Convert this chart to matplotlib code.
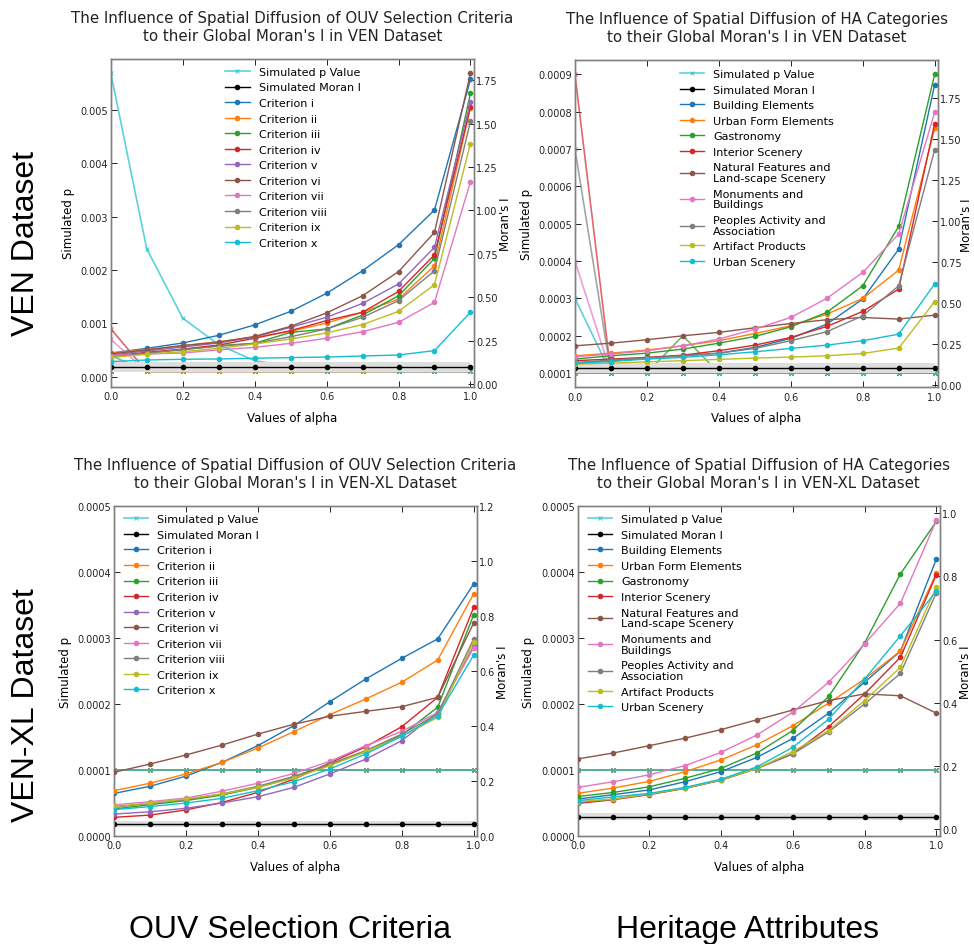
import matplotlib
matplotlib.use("Agg")
import matplotlib.pyplot as plt
from matplotlib.ticker import FormatStrFormatter, MultipleLocator

# alpha values shared by all four panels
alpha = [0.0, 0.1, 0.2, 0.3, 0.4, 0.5, 0.6, 0.7, 0.8, 0.9, 1.0]

criteria = ["Criterion i", "Criterion ii", "Criterion iii", "Criterion iv", "Criterion v",
            "Criterion vi", "Criterion vii", "Criterion viii", "Criterion ix", "Criterion x"]
criteria_colors = ["#1f77b4", "#ff7f0e", "#2ca02c", "#d62728", "#9467bd",
                   "#8c564b", "#e377c2", "#7f7f7f", "#bcbd22", "#17becf"]

ha_names = ["Building Elements", "Urban Form Elements", "Gastronomy", "Interior Scenery",
            "Natural Features and\nLand-scape Scenery", "Monuments and\nBuildings",
            "Peoples Activity and\nAssociation", "Artifact Products", "Urban Scenery"]
ha_colors = ["#1f77b4", "#ff7f0e", "#2ca02c", "#d62728", "#8c564b",
             "#e377c2", "#7f7f7f", "#bcbd22", "#17becf"]

# VEN dataset, OUV criteria: Moran's I per alpha
ven_ouv_moran = [
    [0.178, 0.205, 0.236, 0.280, 0.340, 0.418, 0.522, 0.652, 0.802, 1.002, 1.754],
    [0.178, 0.198, 0.221, 0.244, 0.269, 0.303, 0.351, 0.413, 0.489, 0.681, 1.590],
    [0.159, 0.178, 0.198, 0.221, 0.234, 0.297, 0.317, 0.397, 0.508, 0.723, 1.675],
    [0.159, 0.182, 0.201, 0.224, 0.263, 0.307, 0.365, 0.413, 0.533, 0.744, 1.596],
    [0.167, 0.190, 0.213, 0.236, 0.271, 0.326, 0.384, 0.464, 0.576, 0.787, 1.625],
    [0.173, 0.196, 0.221, 0.240, 0.274, 0.332, 0.409, 0.508, 0.647, 0.873, 1.790],
    [0.163, 0.173, 0.178, 0.196, 0.211, 0.234, 0.263, 0.301, 0.355, 0.470, 1.165],
    [0.153, 0.177, 0.198, 0.217, 0.234, 0.272, 0.317, 0.384, 0.480, 0.652, 1.512],
    [0.153, 0.171, 0.186, 0.205, 0.230, 0.259, 0.294, 0.342, 0.418, 0.572, 1.385],
    [0.129, 0.138, 0.142, 0.144, 0.148, 0.152, 0.155, 0.161, 0.167, 0.192, 0.413],
]
# VEN dataset, OUV criteria: simulated p per alpha
ven_ouv_p = [
    [0.0001, 0.0001, 0.0001, 0.0001, 0.0001, 0.0001, 0.0001, 0.0001, 0.0001, 0.0001, 0.0001],
    [0.0001, 0.0001, 0.0001, 0.0001, 0.0001, 0.0001, 0.0001, 0.0001, 0.0001, 0.0001, 0.0001],
    [0.0003, 0.0001, 0.0001, 0.0002, 0.0001, 0.0001, 0.0001, 0.0001, 0.0001, 0.0001, 0.0001],
    [0.0009, 0.0001, 0.0001, 0.0001, 0.0001, 0.0001, 0.0001, 0.0001, 0.0001, 0.0001, 0.0001],
    [0.0001, 0.0001, 0.0001, 0.0001, 0.0001, 0.0001, 0.0001, 0.0001, 0.0001, 0.0001, 0.0001],
    [0.0001, 0.0001, 0.0001, 0.0001, 0.0001, 0.0001, 0.0001, 0.0001, 0.0001, 0.0001, 0.0001],
    [0.0007, 0.0001, 0.0001, 0.0001, 0.0001, 0.0001, 0.0001, 0.0001, 0.0001, 0.0001, 0.0001],
    [0.0004, 0.0001, 0.0001, 0.0001, 0.0001, 0.0001, 0.0001, 0.0001, 0.0001, 0.0001, 0.0001],
    [0.0003, 0.0001, 0.0001, 0.0001, 0.0001, 0.0001, 0.0001, 0.0001, 0.0001, 0.0001, 0.0001],
    [0.0057, 0.0024, 0.0011, 0.0006, 0.0003, 0.0002, 0.0001, 0.0002, 0.0001, 0.0001, 0.0001],
]
ven_ouv_null = [0.100, 0.100, 0.100, 0.100, 0.100, 0.100, 0.100, 0.100, 0.100, 0.100, 0.100]
ven_ouv_null_sd = 0.029

# VEN dataset, HA categories
ven_ha_moran = [
    [0.130, 0.147, 0.161, 0.177, 0.193, 0.228, 0.283, 0.370, 0.523, 0.828, 1.832],
    [0.177, 0.193, 0.212, 0.238, 0.269, 0.313, 0.360, 0.431, 0.527, 0.700, 1.565],
    [0.157, 0.177, 0.193, 0.218, 0.254, 0.295, 0.354, 0.442, 0.604, 0.967, 1.895],
    [0.147, 0.157, 0.167, 0.181, 0.208, 0.242, 0.289, 0.356, 0.448, 0.584, 1.595],
    [0.238, 0.254, 0.275, 0.299, 0.320, 0.348, 0.374, 0.397, 0.411, 0.401, 0.425],
    [0.171, 0.187, 0.208, 0.238, 0.279, 0.340, 0.411, 0.527, 0.686, 0.920, 1.663],
    [0.136, 0.151, 0.163, 0.177, 0.193, 0.222, 0.269, 0.324, 0.421, 0.604, 1.435],
    [0.126, 0.132, 0.140, 0.147, 0.155, 0.163, 0.169, 0.177, 0.191, 0.224, 0.507],
    [0.130, 0.142, 0.157, 0.167, 0.183, 0.201, 0.222, 0.242, 0.269, 0.309, 0.615],
]
ven_ha_p = [
    [0.0001, 0.0001, 0.0001, 0.0001, 0.0001, 0.0001, 0.0001, 0.0001, 0.0001, 0.0001, 0.0001],
    [0.0001, 0.0001, 0.0001, 0.0001, 0.0001, 0.0001, 0.0001, 0.0001, 0.0001, 0.0001, 0.0001],
    [0.0001, 0.0001, 0.0001, 0.0002, 0.0001, 0.0001, 0.0001, 0.0001, 0.0001, 0.0001, 0.0001],
    [0.0009, 0.0001, 0.0001, 0.0001, 0.0001, 0.0001, 0.0001, 0.0001, 0.0001, 0.0001, 0.0001],
    [0.0001, 0.0001, 0.0001, 0.0001, 0.0001, 0.0001, 0.0001, 0.0001, 0.0001, 0.0001, 0.0001],
    [0.0004, 0.0001, 0.0001, 0.0001, 0.0001, 0.0001, 0.0001, 0.0001, 0.0001, 0.0001, 0.0001],
    [0.0007, 0.0001, 0.0001, 0.0001, 0.0001, 0.0001, 0.0001, 0.0001, 0.0001, 0.0001, 0.0001],
    [0.0001, 0.0001, 0.0001, 0.0001, 0.0001, 0.0001, 0.0001, 0.0001, 0.0001, 0.0001, 0.0001],
    [0.0003, 0.0001, 0.0001, 0.0001, 0.0001, 0.0001, 0.0001, 0.0001, 0.0001, 0.0001, 0.0001],
]
ven_ha_null = [0.102, 0.102, 0.102, 0.102, 0.102, 0.102, 0.102, 0.102, 0.102, 0.102, 0.102]
ven_ha_null_sd = 0.028

# VEN-XL dataset, OUV criteria
xl_ouv_moran = [
    [0.154, 0.180, 0.217, 0.267, 0.328, 0.401, 0.488, 0.571, 0.646, 0.717, 0.917],
    [0.164, 0.191, 0.225, 0.267, 0.319, 0.379, 0.441, 0.498, 0.559, 0.640, 0.881],
    [0.097, 0.113, 0.128, 0.148, 0.176, 0.213, 0.258, 0.306, 0.367, 0.468, 0.805],
    [0.067, 0.075, 0.094, 0.121, 0.158, 0.206, 0.265, 0.324, 0.397, 0.504, 0.832],
    [0.079, 0.087, 0.100, 0.119, 0.142, 0.176, 0.225, 0.279, 0.346, 0.449, 0.690],
    [0.231, 0.261, 0.294, 0.330, 0.370, 0.406, 0.435, 0.453, 0.470, 0.504, 0.775],
    [0.112, 0.124, 0.137, 0.162, 0.191, 0.227, 0.271, 0.328, 0.380, 0.449, 0.684],
    [0.103, 0.118, 0.131, 0.152, 0.180, 0.216, 0.261, 0.310, 0.370, 0.443, 0.717],
    [0.107, 0.119, 0.134, 0.152, 0.176, 0.210, 0.255, 0.307, 0.362, 0.431, 0.707],
    [0.095, 0.106, 0.119, 0.136, 0.164, 0.197, 0.243, 0.298, 0.362, 0.437, 0.658],
]
xl_ouv_null = [0.042, 0.042, 0.042, 0.042, 0.042, 0.042, 0.042, 0.042, 0.042, 0.042, 0.042]
xl_ouv_null_sd = 0.012

# VEN-XL dataset, HA categories
xl_ha_moran = [
    [0.095, 0.109, 0.124, 0.150, 0.182, 0.227, 0.287, 0.367, 0.465, 0.563, 0.855],
    [0.113, 0.130, 0.151, 0.182, 0.219, 0.267, 0.327, 0.399, 0.475, 0.564, 0.810],
    [0.103, 0.116, 0.134, 0.161, 0.192, 0.241, 0.312, 0.420, 0.589, 0.808, 0.974],
    [0.081, 0.093, 0.109, 0.129, 0.155, 0.192, 0.238, 0.324, 0.428, 0.544, 0.805],
    [0.222, 0.241, 0.264, 0.288, 0.315, 0.346, 0.377, 0.407, 0.428, 0.422, 0.367],
    [0.132, 0.150, 0.172, 0.201, 0.243, 0.298, 0.370, 0.465, 0.586, 0.715, 0.977],
    [0.084, 0.095, 0.111, 0.129, 0.155, 0.192, 0.238, 0.308, 0.396, 0.493, 0.748],
    [0.087, 0.095, 0.111, 0.130, 0.156, 0.192, 0.245, 0.312, 0.407, 0.512, 0.766],
    [0.090, 0.102, 0.113, 0.132, 0.158, 0.197, 0.259, 0.348, 0.475, 0.612, 0.753],
]
xl_ha_null = [0.039, 0.039, 0.039, 0.039, 0.039, 0.039, 0.039, 0.039, 0.039, 0.039, 0.039]
xl_ha_null_sd = 0.011

# every category reaches the permutation floor in VEN-XL
xl_p = [0.0001, 0.0001, 0.0001, 0.0001, 0.0001, 0.0001, 0.0001, 0.0001, 0.0001, 0.0001, 0.0001]

plt.rcParams["font.family"] = "DejaVu Sans"
SPINE = "#808080"


def draw_panel(rect, title, names, colors, moran, pvals, null, null_sd,
               p_lim, p_step, p_fmt, m_lim, m_step, m_fmt, leg_xy, mlabel_x=None):
    ax = fig.add_axes(rect)
    ax2 = ax.twinx()

    # simulated p for each category, left axis
    p_lines = []
    for vals, c in zip(pvals, colors):
        ln, = ax.plot(alpha, vals, color=c, marker="x", ms=3, mew=0.8, lw=1.2, alpha=0.7)
        p_lines.append(ln)

    # null distribution of Moran's I, right axis
    lo = [v - null_sd for v in null]
    hi = [v + null_sd for v in null]
    ax2.fill_between(alpha, lo, hi, color="0.87", lw=0, zorder=1)
    null_ln, = ax2.plot(alpha, null, color="black", marker=".", ms=6, lw=1.0, zorder=2)

    m_lines = []
    for vals, c in zip(moran, colors):
        ln, = ax2.plot(alpha, vals, color=c, marker=".", ms=6, lw=1.0, zorder=3)
        m_lines.append(ln)

    ax.set_xlim(0, 1.01)
    ax.set_ylim(*p_lim)
    ax2.set_ylim(*m_lim)
    ax.xaxis.set_major_locator(MultipleLocator(0.2))
    ax.xaxis.set_major_formatter(FormatStrFormatter("%.1f"))
    ax.yaxis.set_major_locator(MultipleLocator(p_step))
    ax.yaxis.set_major_formatter(FormatStrFormatter(p_fmt))
    ax2.yaxis.set_major_locator(MultipleLocator(m_step))
    ax2.yaxis.set_major_formatter(FormatStrFormatter(m_fmt))

    for a in (ax, ax2):
        a.tick_params(direction="in", length=4, width=0.7, labelsize=7, pad=2, colors="#222222")
        for s in a.spines.values():
            s.set_color(SPINE)
            s.set_linewidth(1.0)
    ax.tick_params(axis="x", top=True, pad=3)
    ax2.tick_params(axis="y", pad=1.5)

    ax.set_title(title, fontsize=10.8, pad=14, color="#222222")
    ax.set_xlabel("Values of alpha", fontsize=8.5, labelpad=7)
    ax.set_ylabel("Simulated p", fontsize=8.5, labelpad=4)
    ax2.set_ylabel("Moran's I", fontsize=8.5, labelpad=1)
    if mlabel_x is not None:
        ax2.yaxis.set_label_coords(mlabel_x, 0.5)

    handles = [p_lines[-1], null_ln] + m_lines
    labels = ["Simulated p Value", "Simulated Moran I"] + names
    leg = ax2.legend(handles, labels, loc="upper left", bbox_to_anchor=leg_xy,
                     frameon=False, fontsize=8, numpoints=1, labelspacing=0.5,
                     handlelength=2.2, handletextpad=0.8, borderpad=0, borderaxespad=0)
    for t in leg.get_texts():
        t.set_linespacing(1.1)
    return ax


fig = plt.figure(figsize=(9.74, 9.45), dpi=100)

draw_panel([0.1137, 0.5897, 0.373, 0.3468],
           "The Influence of Spatial Diffusion of OUV Selection Criteria\n"
           "to their Global Moran's I in VEN Dataset",
           criteria, criteria_colors, ven_ouv_moran, ven_ouv_p, ven_ouv_null, ven_ouv_null_sd,
           (-0.000188, 0.00596), 0.001, "%.3f", (-0.016, 1.872), 0.25, "%.2f", (0.315, 0.976))

draw_panel([0.5903, 0.589, 0.373, 0.3463],
           "The Influence of Spatial Diffusion of HA Categories\n"
           "to their Global Moran's I in VEN Dataset",
           ha_names, ha_colors, ven_ha_moran, ven_ha_p, ven_ha_null, ven_ha_null_sd,
           (0.0000616, 0.000938), 0.0001, "%.4f", (-0.016, 1.982), 0.25, "%.2f", (0.289, 0.973),
           mlabel_x=1.060)

draw_panel([0.117, 0.1146, 0.373, 0.3486],
           "The Influence of Spatial Diffusion of OUV Selection Criteria\n"
           "to their Global Moran's I in VEN-XL Dataset",
           criteria, criteria_colors, xl_ouv_moran, [xl_p] * len(criteria), xl_ouv_null, xl_ouv_null_sd,
           (0.0, 0.0005), 0.0001, "%.4f", (0.0, 1.2), 0.2, "%.1f", (0.0275, 0.976))

draw_panel([0.593, 0.1146, 0.372, 0.3486],
           "The Influence of Spatial Diffusion of HA Categories\n"
           "to their Global Moran's I in VEN-XL Dataset",
           ha_names, ha_colors, xl_ha_moran, [xl_p] * len(ha_names), xl_ha_null, xl_ha_null_sd,
           (0.0, 0.0005), 0.0001, "%.4f", (-0.021, 1.022), 0.2, "%.1f", (0.0276, 0.976))

# row and column headings
big = dict(family=["Liberation Sans", "DejaVu Sans"], fontsize=23, color="black")
fig.text(0.027, 1 - 243 / 945, "VEN Dataset", rotation=90, ha="center", va="center", **big)
fig.text(0.027, 1 - 705 / 945, "VEN-XL Dataset", rotation=90, ha="center", va="center", **big)
fig.text(290 / 974, 1 - 930 / 945, "OUV Selection Criteria", ha="center", va="center", **big)
fig.text(747 / 974, 1 - 930 / 945, "Heritage Attributes", ha="center", va="center", **big)

fig.savefig("out.png", dpi=100)
